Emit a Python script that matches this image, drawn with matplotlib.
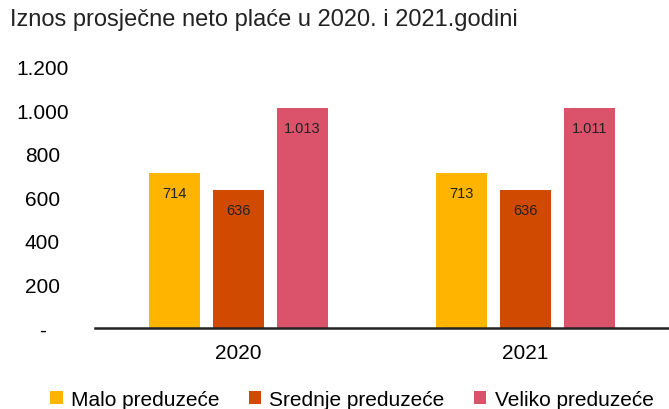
import numpy as np
import matplotlib.pyplot as plt

plt.rcParams['font.family'] = ['Liberation Sans', 'DejaVu Sans']

years = ["2020", "2021"]
series = ["Malo preduzeće", "Srednje preduzeće", "Veliko preduzeće"]
values = [
    [714, 713],
    [636, 636],
    [1013, 1011],
]
colors = ["#FFB400", "#D04A02", "#DB536A"]
yticks = [0, 200, 400, 600, 800, 1000, 1200]


def fmt(v):
    if v == 0:
        return "-"
    return "{:,}".format(v).replace(",", ".")


fig = plt.figure(figsize=(6.69, 4.10), dpi=100)
ax = fig.add_axes([0.142, 0.1976, 0.858, 0.6366])

x = np.arange(len(years))
width = 0.175
step = 0.223
for i, (name, vals, c) in enumerate(zip(series, values, colors)):
    pos = x + (i - 1) * step
    bars = ax.bar(pos, vals, width, color=c, label=name)
    for b, v in zip(bars, vals):
        ax.text(b.get_x() + b.get_width() / 2, v - 60, fmt(v),
                ha="center", va="top", fontsize=10.5, color="#222222")

ax.set_xlim(-0.5, 1.5)
ax.set_ylim(0, 1200)
ax.set_xticks(x)
ax.set_xticklabels(years, fontsize=15)
ax.set_yticks(yticks)
ax.set_yticklabels([fmt(v) for v in yticks], fontsize=15)
ax.tick_params(axis="x", length=0, pad=11)
ax.tick_params(axis="y", length=0, pad=38)
for lbl in ax.get_yticklabels():
    lbl.set_horizontalalignment("center")
for s in ["top", "right", "left"]:
    ax.spines[s].set_visible(False)
ax.spines["bottom"].set_linewidth(1.8)
ax.spines["bottom"].set_color("#222222")

fig.text(0.015, 0.951, "Iznos prosječne neto plaće u 2020. i 2021.godini",
         fontsize=17, va="center", ha="left", color="#222222")

fig.legend(loc="center", bbox_to_anchor=(0.526, 0.024), ncol=3, frameon=False,
           fontsize=15, handlelength=0.6, handleheight=0.6,
           handletextpad=0.4, columnspacing=1.4)

fig.savefig("out.png", dpi=100)
